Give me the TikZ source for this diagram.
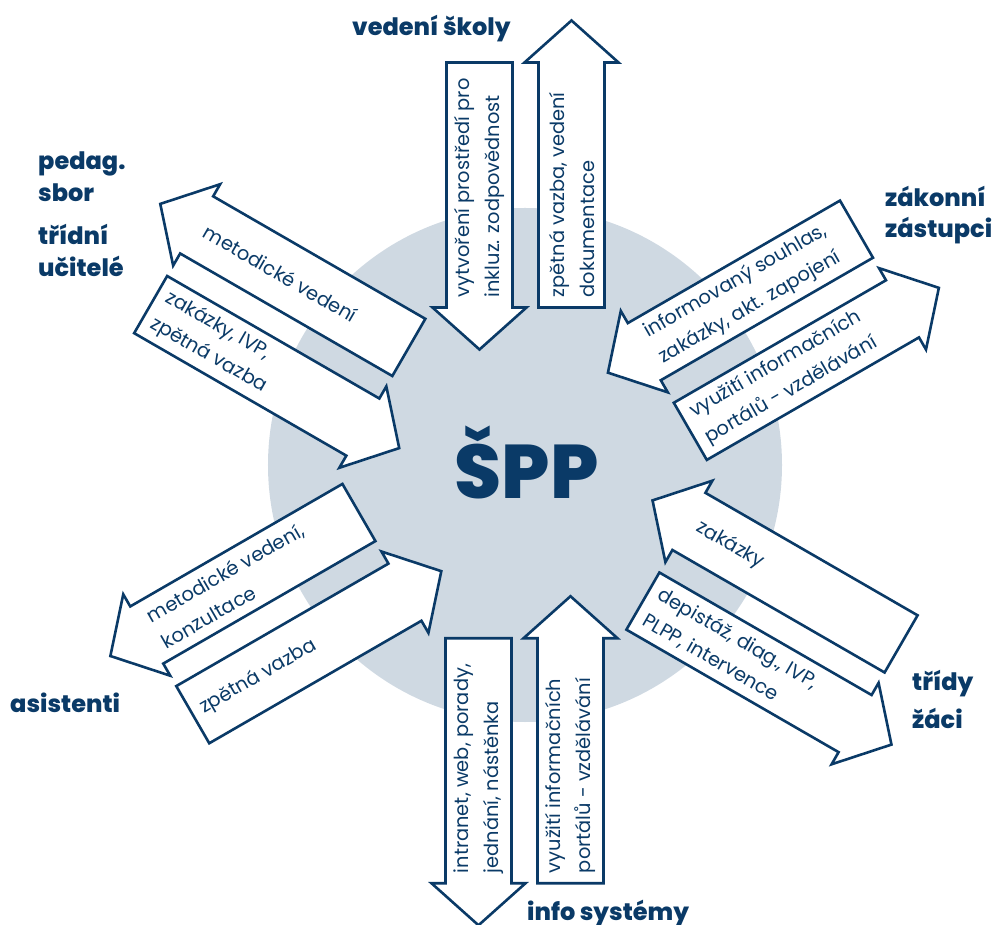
\documentclass[tikz,border=0pt]{standalone}
\usepackage{fontspec}
\setmainfont{Poppins}[BoldFont={* ExtraBold}]
\definecolor{navy}{HTML}{0A3A67}
\definecolor{disc}{HTML}{CFD9E2}
\tikzset{
  arr/.style={draw=navy, line width=2.6pt, fill=white, line join=miter},
  txt/.style={text=navy, font=\fontsize{19.4}{30}\selectfont, align=left, inner sep=0pt, anchor=west},
  lbl/.style={text=navy, font=\bfseries\fontsize{24}{31}\selectfont, inner sep=0pt, anchor=base west},
}
% #1 name, #2 shaft centre, #3 text angle, #4 text of the upper arrow (points -x), #5 text of the lower arrow (points +x)
\newcommand\arrowpair[5]{%
  \begin{scope}[shift={(#2)}, rotate=#3]
    \draw[arr] (122.5,13) -- (-122.5,13) -- (-122.5,-1) -- (-164.5,46) -- (-122.5,93) -- (-122.5,79) -- (122.5,79) -- cycle;
    \draw[arr] (-122.5,-13) -- (122.5,-13) -- (122.5,1) -- (164.5,-46) -- (122.5,-93) -- (122.5,-79) -- (-122.5,-79) -- cycle;
    \node[txt, rotate=#3] (#1a) at (-112.5,46) {#4};
    \node[txt, rotate=#3] (#1b) at (-112.5,-46) {#5};
  \end{scope}}
\begin{document}
\begin{tikzpicture}[x=1pt, y=1pt]
\useasboundingbox (-525,-460) rectangle (475,465);
\fill[disc] (0,0) circle (257);
\node[text=navy, font=\bfseries\fontsize{76}{76}\selectfont, inner sep=0pt, anchor=base] (spp) at (1.5,-34) {ŠPP};

\arrowpair{top}{0.5,280}{90}{vytvoření prostředí pro\\inkluz. zodpovědnost}{zpětná vazba, vedení\\dokumentace}
\arrowpair{ul}{-245.25,139}{-30}{metodické vedení}{zakázky, IVP,\\zpětná vazba}
\arrowpair{ur}{248.4,134.75}{30}{informovaný souhlas,\\zakázky, akt. zapojení}{využití informačních\\portálů - vzdělávání}
\arrowpair{ll}{-249.15,-148.6}{30}{metodické vedení,\\konzultace}{zpětná vazba}
\arrowpair{lr}{247,-157.5}{-30}{zakázky}{depistáž, diag., IVP,\\PLPP, intervence}
\arrowpair{bot}{-0.5,-295.75}{90}{intranet, web, porady,\\jednání, nástěnka}{využití informačních\\portálů - vzdělávání}

\node[lbl] (vedeni) at (-173,429) {vedení školy};
\node[lbl] (pedag) at (-487,295) {pedag.};
\node[lbl] (sbor) at (-487,263) {sbor};
\node[lbl] (tridni) at (-487,220) {třídní};
\node[lbl] (ucitele) at (-487,188) {učitelé};
\node[lbl] (zakonni) at (360,258) {zákonní};
\node[lbl] (zastupci) at (360,227) {zástupci};
\node[lbl] (asist) at (-515,-247) {asistenti};
\node[lbl] (tridy) at (387,-225) {třídy};
\node[lbl] (zaci) at (387,-263) {žáci};
\node[lbl] (info) at (2,-455) {info systémy};
\end{tikzpicture}
\end{document}
